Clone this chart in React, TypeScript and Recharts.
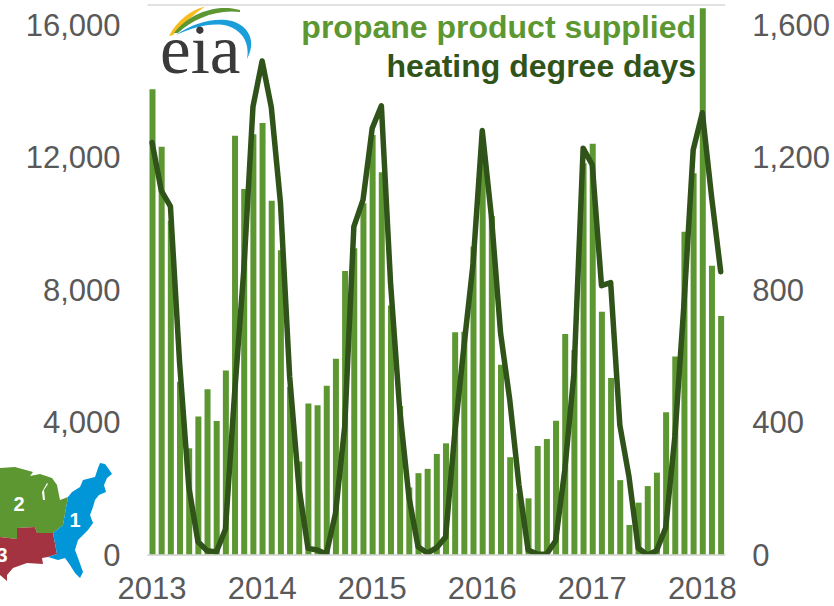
import React from "react";
import { ComposedChart, Bar, Line, XAxis, YAxis, CartesianGrid } from "recharts";

const propaneSupplied = [
  14060, 12320, 10090, 5230, 3220, 4180, 5000, 4045, 5565, 12650, 11050, 12700,
  13040, 10690, 9200, 5080, 2820, 4570, 4520, 5110, 5920, 8570, 9260, 10620,
  12680, 11550, 7530, 4500, 2040, 2470, 2600, 3050, 3370, 6720, 6740, 9310,
  12000, 10230, 5740, 2950, 1860, 1710, 3290, 3500, 4055, 6670, 6190, 11825,
  12410, 7345, 5340, 2260, 905, 1580, 2080, 2485, 4310, 5990, 9760, 11520,
  16500, 8730, 7215,
];
const heatingDegreeDays = [
  1245, 1100, 1052, 580, 206, 40, 13, 9, 78, 489, 860, 1353,
  1491, 1351, 1062, 538, 206, 20, 15, 3, 126, 387, 991, 1072,
  1288, 1356, 821, 438, 176, 25, 6, 21, 54, 367, 629, 880,
  1281, 1021, 669, 468, 211, 15, 3, 2, 43, 257, 549, 1228,
  1177, 813, 822, 392, 236, 21, 0, 13, 82, 357, 760, 1223,
  1335, 1082, 855,
];
const startYear = 2013;
const months = propaneSupplied.map((_, i) => `${startYear + Math.floor(i / 12)}-${String((i % 12) + 1).padStart(2, "0")}`);
const yearTicks = months.filter((m) => m.endsWith("-01"));
const leftTicks = [0, 4000, 8000, 12000, 16000];
const rightTicks = [0, 400, 800, 1200, 1600];
const rows = months.map((month, i) => ({ month, propane: propaneSupplied[i], hdd: heatingDegreeDays[i] }));

const GREEN = "#5d9732";
const DARK = "#30531a";
const GREY = "#595959";
const FONT = "'Liberation Sans', Arial, sans-serif";
const tickStyle = { fontSize: 31, fontFamily: FONT, fill: GREY };

function Overlay() {
  return (
    <svg width={834} height={606} style={{ position: "absolute", left: 0, top: 0, pointerEvents: "none" }}>
      {/* legend */}
      <text x={696} y={38} textAnchor="end" fontFamily={FONT} fontWeight="bold" fontSize={32} fill={GREEN}>propane product supplied</text>
      <text x={696} y={77} textAnchor="end" fontFamily={FONT} fontWeight="bold" fontSize={32} fill={DARK}>heating degree days</text>
      {/* logo */}
      <path d="M169 36 C177 21 190 10 205 6.5 C194 14 183 24 173 35 Z" fill="#f7bd1d" />
      <path d="M174 33 C188 15 214 3 240 10 L240 12 C216 9 193 19 178 33 Z" fill={GREEN} />
      <path d="M176 35 C194 22 216 17 232 21 C248 26 257 40 247 59 C250 42 242 31 228 26 C212 22 194 27 176 35 Z" fill="#1b9fdb" />
      <text x={160} y={73} fontFamily="'Liberation Serif', serif" fontSize={69} fill="#3a3a3a">eia</text>
      {/* region map */}
      <polygon fill="#5d9732" points="0,468 15,467 33,472 30,476 40,474 52,478 57,485 60,500 68,497 63,525 53,533 37,533 35,527 17,528 17,539 0,537" />
      <polygon fill="#a33340" points="0,537 17,539 17,528 35,527 37,533 53,533 57,554 48,557 42,558 43,564 27,563 13,568 7,575 7,581 0,575" />
      <polygon fill="#0096d7" points="100,463 105,464 108,468 112,474 107,478 104,485 106,492 99,495 95,500 93,507 90,515 93,523 88,530 78,540 75,550 78,558 83,572 80,578 75,573 70,565 65,558 58,560 48,557 57,554 53,533 63,525 68,497 72,492 80,487 83,480 95,477 98,468" />
      <path d="M47 483 L42 492 L43 500 L45 500 L44 490 L48 484 Z" fill="#ffffff" />
      <text x={19} y={511} textAnchor="middle" fontFamily={FONT} fontWeight="bold" fontSize={20} fill="#ffffff">2</text>
      <text x={75} y={527} textAnchor="middle" fontFamily={FONT} fontWeight="bold" fontSize={20} fill="#ffffff">1</text>
      <text x={2} y={562} textAnchor="middle" fontFamily={FONT} fontWeight="bold" fontSize={20} fill="#ffffff">3</text>
    </svg>
  );
}

export default function App() {
  return (
    <div style={{ position: "absolute", left: 0, top: 0, width: 834, height: 606 }}>
      <ComposedChart width={834} height={606} data={rows} margin={{ top: 5, right: 0, bottom: 0, left: 0 }} barCategoryGap={0}>
        <CartesianGrid horizontal vertical={false} stroke="#d9d9d9" strokeWidth={1.5} />
        <XAxis
          dataKey="month"
          ticks={yearTicks}
          tickFormatter={(m: string) => m.slice(0, 4)}
          height={51}
          interval={0}
          tickLine={false}
          axisLine={{ stroke: "#d9d9d9", strokeWidth: 1.5 }}
          tick={tickStyle}
          tickMargin={16}
        />
        <YAxis
          yAxisId="left"
          width={147.5}
          domain={[0, 16600]}
          ticks={leftTicks}
          tickFormatter={(v: number) => v.toLocaleString("en-US")}
          axisLine={false}
          tickLine={false}
          tickSize={0}
          tickMargin={27}
          tick={tickStyle}
          allowDataOverflow
        />
        <YAxis
          yAxisId="right"
          orientation="right"
          width={108.7}
          domain={[0, 1660]}
          ticks={rightTicks}
          tickFormatter={(v: number) => v.toLocaleString("en-US")}
          axisLine={false}
          tickLine={false}
          tickSize={0}
          tickMargin={27}
          tick={{ ...tickStyle, textAnchor: "start" }}
          allowDataOverflow
        />
        <Bar yAxisId="left" dataKey="propane" name="propane product supplied" fill={GREEN} barSize={6} isAnimationActive={false} />
        <Line yAxisId="right" dataKey="hdd" name="heating degree days" type="linear" stroke={DARK} strokeWidth={5.5} dot={false} strokeLinejoin="round" strokeLinecap="round" isAnimationActive={false} />
      </ComposedChart>
      <Overlay />
    </div>
  );
}
